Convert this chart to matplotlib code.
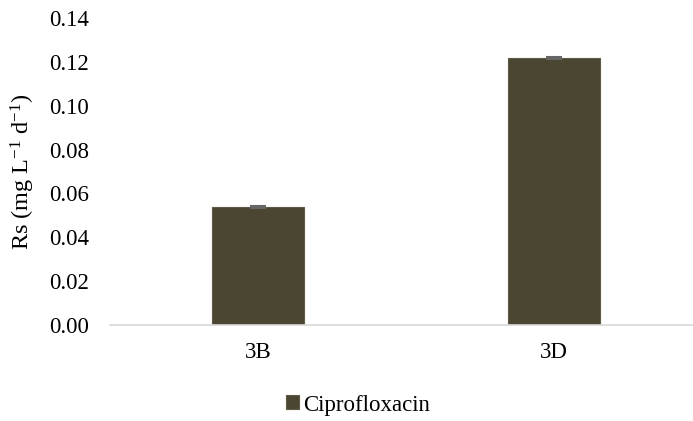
import numpy as np
import matplotlib.pyplot as plt

plt.rcParams['font.family'] = ['Liberation Serif', 'DejaVu Serif']
plt.rcParams['mathtext.fontset'] = 'custom'
plt.rcParams['mathtext.rm'] = 'Liberation Serif'
plt.rcParams['mathtext.it'] = 'Liberation Serif:italic'

categories = ['3B', '3D']
rs_values = [0.0538, 0.1217]
rs_errors = [0.0004, 0.0006]
series_name = 'Ciprofloxacin'
yticks = np.arange(0, 0.1401, 0.02)

fs = 16.5

fig = plt.figure(figsize=(6.93, 4.21), dpi=100)
ax = fig.add_axes([110/693, 96/421, 592/693, 307/421])

x = np.arange(len(categories))
ax.bar(x, rs_values, width=0.31, color='#4b4631', edgecolor='#5e5a45',
       linewidth=0.8, label=series_name, zorder=2)
ax.errorbar(x, rs_values, yerr=rs_errors, fmt='none', ecolor='#666666',
            elinewidth=1.2, capsize=6, capthick=1.5, zorder=3)

ax.set_xlim(-0.5, 1.5)
ax.set_ylim(0, 0.14)
ax.set_yticks(yticks)
ax.set_yticklabels(['%.2f' % v for v in yticks], fontsize=fs)
ax.set_xticks(x)
ax.set_xticklabels(categories, fontsize=fs)
ax.tick_params(axis='y', length=0, pad=15)
ax.tick_params(axis='x', length=0, pad=12)

for s in ['top', 'right', 'left']:
    ax.spines[s].set_visible(False)
ax.spines['bottom'].set_color('#d9d9d9')
ax.spines['bottom'].set_linewidth(1.2)

ax.set_ylabel(r'Rs (mg L$^{\mathrm{-1}}$ d$^{\mathrm{-1}}$)', fontsize=17.5)
ax.yaxis.set_label_coords(-(110 - 37) / 592, 0.5)

fig.legend(loc='center', bbox_to_anchor=(358/693, 1 - 405/421), frameon=False,
           fontsize=fs, handlelength=0.55, handleheight=0.55, handletextpad=0.2)

fig.savefig('out.png', dpi=100)
